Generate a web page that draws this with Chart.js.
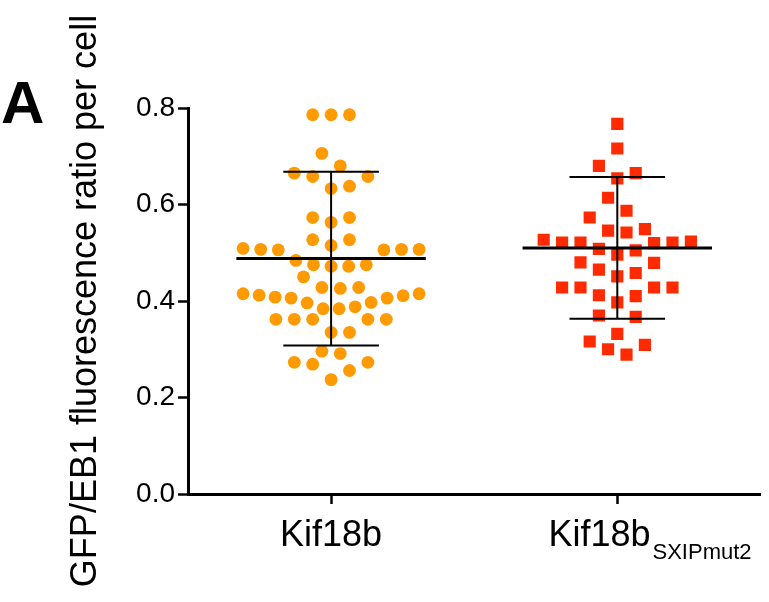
<!DOCTYPE html>
<html>
<head>
<meta charset="utf-8">
<script src="https://cdn.jsdelivr.net/npm/chart.js@4/dist/chart.umd.min.js"></script>
<style>
  html, body { margin: 0; padding: 0; background: #fff; }
  #wrap { position: relative; width: 769px; height: 602px; }
</style>
</head>
<body>
<div id="wrap"><canvas id="c"></canvas></div>
<script>
// ---- data ----
const panelLabel = 'A';
const yAxisTitle = 'GFP/EB1 fluorescence ratio per cell';
const categories = ['Kif18b', 'Kif18b'];
const categorySubscripts = ['', 'SXIPmut2'];

const kif18bValues = [
  0.786, 0.786, 0.786,
  0.706, 0.680,
  0.665, 0.658, 0.658, 0.638, 0.633,
  0.573, 0.573, 0.563,
  0.527, 0.527, 0.515,
  0.507, 0.507, 0.507, 0.506, 0.506, 0.509,
  0.475, 0.472, 0.472, 0.475, 0.484,
  0.450, 0.428, 0.426, 0.428,
  0.415, 0.412, 0.408, 0.406, 0.396, 0.384, 0.384, 0.388, 0.397, 0.406, 0.411, 0.415,
  0.362, 0.362, 0.362, 0.362, 0.362,
  0.335, 0.335,
  0.296, 0.291,
  0.273, 0.269, 0.273, 0.256, 0.237
];

const sxipMut2Values = [
  0.767, 0.716,
  0.680, 0.665, 0.654,
  0.614, 0.587,
  0.573, 0.546, 0.542, 0.549,
  0.527, 0.521, 0.521, 0.520, 0.521, 0.523, 0.508, 0.505, 0.496,
  0.479, 0.480, 0.458, 0.465, 0.451,
  0.428, 0.428, 0.428, 0.428, 0.412, 0.410, 0.397,
  0.367, 0.370, 0.332,
  0.309, 0.316, 0.300, 0.289
];

const groupMeans = [0.488, 0.510];
const groupSDs = [0.180, 0.147];

const yMin = 0, yMax = 0.8, yStep = 0.2;

// ---- styling ----
const FONT = '"Liberation Sans", Arial, Helvetica, sans-serif';
const COLORS = ['#FF9A00', '#FF2A00'];
const STYLE = {
  meanHalfWidth: 0.331,   // in category units
  capHalfWidth: 0.167,
  swarmStepPx: 18.4,
  swarmBinPx: 19,
  swarmMaxSpanPx: 176
};

function beeswarmPixelOffsets(values, yScale) {
  const px = values.map(v => yScale.getPixelForValue(v));
  const order = values.map((v, i) => i).sort((a, b) => values[a] - values[b] || a - b);
  const offsets = new Array(values.length).fill(0);
  let k = 0;
  while (k < order.length) {
    const startPx = px[order[k]];
    const row = [];
    while (k < order.length && startPx - px[order[k]] <= STYLE.swarmBinPx) { row.push(order[k]); k++; }
    const n = row.length;
    const sp = n > 1 ? Math.min(STYLE.swarmStepPx, STYLE.swarmMaxSpanPx / (n - 1)) : 0;
    const slots = [];
    if (n % 2 === 1) {
      slots.push(0);
      for (let j = 1; slots.length < n; j++) { slots.push(j); if (slots.length < n) slots.push(-j); }
    } else {
      for (let j = 0.5; slots.length < n; j++) { slots.push(j); slots.push(-j); }
    }
    row.forEach((id, r) => { offsets[id] = slots[r] * sp; });
  }
  return offsets;
}

const groups = [kif18bValues, sxipMut2Values];

const overlayPlugin = {
  id: 'overlay',
  afterDatasetsDraw(chart) {
    const { ctx } = chart;
    const x = chart.scales.x, y = chart.scales.y;
    ctx.save();
    ctx.strokeStyle = '#000';
    groupMeans.forEach((m, i) => {
      const c = i + 0.5;
      const cx = x.getPixelForValue(c);
      const my = y.getPixelForValue(m);
      const up = y.getPixelForValue(m + groupSDs[i]);
      const lo = y.getPixelForValue(m - groupSDs[i]);
      ctx.lineWidth = 2;
      ctx.beginPath();
      ctx.moveTo(cx, up); ctx.lineTo(cx, lo);
      const c1 = x.getPixelForValue(c - STYLE.capHalfWidth), c2 = x.getPixelForValue(c + STYLE.capHalfWidth);
      ctx.moveTo(c1, up); ctx.lineTo(c2, up);
      ctx.moveTo(c1, lo); ctx.lineTo(c2, lo);
      ctx.stroke();
      ctx.lineWidth = 3;
      ctx.beginPath();
      ctx.moveTo(x.getPixelForValue(c - STYLE.meanHalfWidth), my);
      ctx.lineTo(x.getPixelForValue(c + STYLE.meanHalfWidth), my);
      ctx.stroke();
    });
    ctx.restore();
  },
  afterDraw(chart) {
    const { ctx } = chart;
    const x = chart.scales.x;
    ctx.save();
    ctx.fillStyle = '#000';
    ctx.textBaseline = 'alphabetic';
    categories.forEach((label, i) => {
      const cx = x.getPixelForValue(i + 0.5);
      ctx.font = '36px ' + FONT;
      const mainW = ctx.measureText(label).width;
      const sub = categorySubscripts[i];
      ctx.font = '22px ' + FONT;
      const subW = sub ? ctx.measureText(sub).width : 0;
      const startX = cx - mainW / 2 - subW * 0.18;
      const baseY = x.top + 52;
      ctx.font = '36px ' + FONT;
      ctx.textAlign = 'left';
      ctx.fillText(label, startX, baseY);
      if (sub) {
        ctx.font = '22px ' + FONT;
        ctx.fillText(sub, startX + mainW + 2, baseY + 13);
      }
    });
    ctx.font = 'bold 60px ' + FONT;
    ctx.textAlign = 'left';
    ctx.fillText(panelLabel, 1, 123);
    ctx.restore();
  }
};

const chart = new Chart(document.getElementById('c'), {
  type: 'scatter',
  data: {
    datasets: groups.map((vals, i) => ({
      label: categories[i] + categorySubscripts[i],
      data: vals.map(v => ({ x: i + 0.5, y: v })),
      backgroundColor: COLORS[i],
      borderWidth: 0,
      pointStyle: i === 0 ? 'circle' : 'rect',
      pointRadius: i === 0 ? 6.4 : 8.6,
      pointHoverRadius: i === 0 ? 6.4 : 8.6
    }))
  },
  options: {
    responsive: true,
    maintainAspectRatio: false,
    animation: false,
    events: [],
    layout: { padding: { top: 108, right: 2, bottom: 0, left: 0 } },
    plugins: { legend: { display: false }, tooltip: { enabled: false } },
    scales: {
      x: {
        type: 'linear',
        min: 0, max: categories.length,
        afterBuildTicks: s => { s.ticks = categories.map((c, i) => ({ value: i + 0.5 })); },
        afterFit: s => { s.height = 108; },
        grid: { drawOnChartArea: false, drawTicks: true, tickLength: 10, tickWidth: 2.5, tickColor: '#000' },
        border: { display: true, color: '#000', width: 3 },
        ticks: { callback: () => '', autoSkip: false }
      },
      y: {
        min: yMin, max: yMax,
        afterFit: s => { s.width = 188; },
        grid: { drawOnChartArea: false, drawTicks: true, tickLength: 10, tickWidth: 2.5, tickColor: '#000' },
        border: { display: true, color: '#000', width: 3 },
        ticks: {
          stepSize: yStep,
          padding: 3,
          color: '#000',
          font: { family: FONT, size: 28 },
          callback: v => Number(v).toFixed(1)
        },
        title: {
          display: true,
          text: yAxisTitle,
          color: '#000',
          font: { family: FONT, size: 36, lineHeight: 1.2 },
          padding: { top: 64, bottom: 0 }
        }
      }
    }
  },
  plugins: [overlayPlugin]
});

(function arrange() {
  const x = chart.scales.x, y = chart.scales.y;
  const pxPerUnit = x.getPixelForValue(1) - x.getPixelForValue(0);
  groups.forEach((vals, i) => {
    const offs = beeswarmPixelOffsets(vals, y);
    chart.data.datasets[i].data = vals.map((v, j) => ({ x: i + 0.5 + offs[j] / pxPerUnit, y: v }));
  });
  chart.update('none');
})();
</script>
</body>
</html>
